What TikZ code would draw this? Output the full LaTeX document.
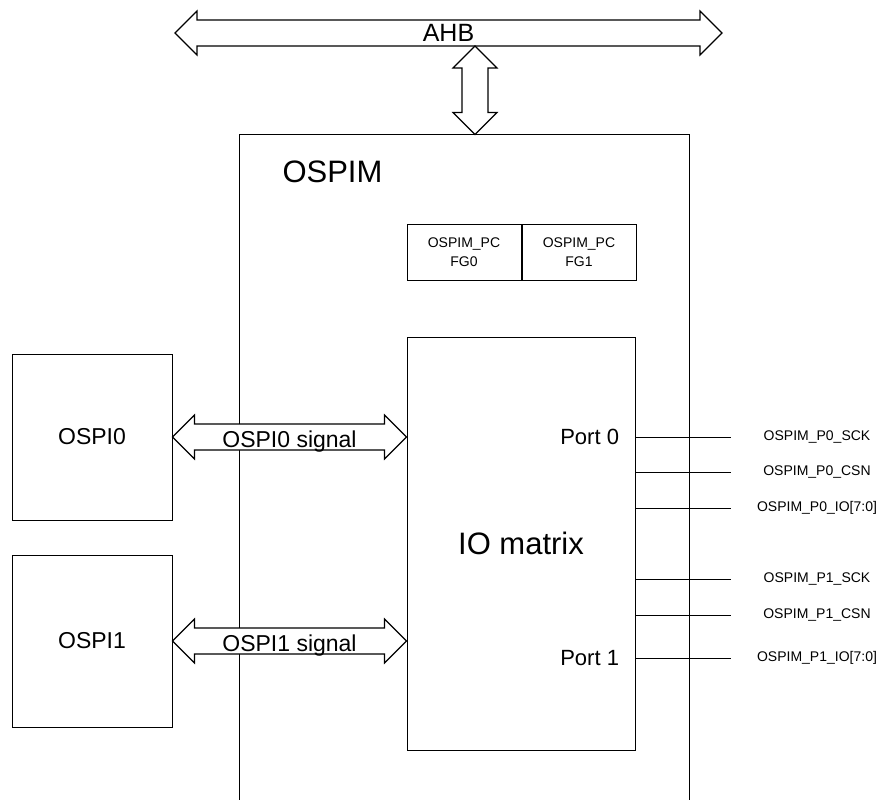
\documentclass[tikz,border=0pt]{standalone}
\usepackage{fontspec}
\setmainfont{Liberation Sans}
\usetikzlibrary{calc,positioning}

% wide two-headed bus arrows, from #1 to #2
\newcommand{\hbus}[2]{%
  \draw[bus] let \p1=(#1), \p2=(#2) in
    (\x1,\y1) -- (\x1+22pt,\y1+22pt) -- (\x1+22pt,\y1+13pt)
    -- (\x2-22pt,\y1+13pt) -- (\x2-22pt,\y1+22pt) -- (\x2,\y1)
    -- (\x2-22pt,\y1-22pt) -- (\x2-22pt,\y1-13pt)
    -- (\x1+22pt,\y1-13pt) -- (\x1+22pt,\y1-22pt) -- cycle;}
\newcommand{\vbus}[2]{%
  \draw[bus] let \p1=(#1), \p2=(#2) in
    (\x1,\y1) -- (\x1+22pt,\y1-22pt) -- (\x1+13pt,\y1-22pt)
    -- (\x1+13pt,\y2+22pt) -- (\x1+22pt,\y2+22pt) -- (\x1,\y2)
    -- (\x1-22pt,\y2+22pt) -- (\x1-13pt,\y2+22pt)
    -- (\x1-13pt,\y1-22pt) -- (\x1-22pt,\y1-22pt) -- cycle;}

\begin{document}
\begin{tikzpicture}[x=1pt, y=-1pt,
    line width=1pt,
    box/.style   = {draw, line width=1pt, inner sep=0pt, align=center},
    bus/.style   = {draw, fill=white, line width=1.2pt, line join=miter},
    wire/.style  = {line width=1pt},
    huge/.style  = {font=\fontsize{31}{37}\selectfont},
    mid/.style   = {font=\fontsize{23}{28}\selectfont},
    port/.style  = {font=\fontsize{22}{26}\selectfont, inner sep=0pt},
    tiny/.style  = {font=\fontsize{14}{19}\selectfont},
    sig/.style   = {font=\fontsize{14}{17}\selectfont, inner sep=0pt},
  ]
  \useasboundingbox (0,0) rectangle (892,800);

  % OSPIM block, open at the bottom
  \node[minimum width=449pt, minimum height=665pt, inner sep=0pt] (ospim) at (464.5,467.5) {};
  \draw (ospim.south west) |- (ospim.north east) -- (ospim.south east);
  \node[huge, anchor=base west, inner sep=0pt] (ospimlbl) at (282,182) {OSPIM};

  \node[box, tiny, minimum width=114pt, minimum height=56pt] (pcfg0) at (464,252) {OSPIM\_PC\\FG0};
  \node[box, tiny, minimum width=114pt, minimum height=56pt, right=0pt of pcfg0] (pcfg1) {OSPIM\_PC\\FG1};

  \node[box, minimum width=228pt, minimum height=413pt] (io) at (521,543.5) {};
  \node[huge] (iolbl) at (io.center) {IO matrix};

  \node[box, mid, minimum width=160pt, minimum height=166pt] (ospi0) at (92,437) {OSPI0};
  \node[box, mid, minimum width=160pt, minimum height=172pt] (ospi1) at (92,641) {OSPI1};

  % AHB bus
  \coordinate (ahbL) at (175,33);
  \coordinate (ahbR) at (722,33);
  \coordinate (ahbtap) at (475,46);
  \hbus{ahbL}{ahbR}
  \node[anchor=base, inner sep=0pt, font=\fontsize{25}{30}\selectfont] (ahblbl)
    at ($(ahbL)!0.5!(ahbR)+(0,9)$) {AHB};
  \vbus{ahbtap}{ahbtap |- ospim.north}

  % OSPI signal buses
  \hbus{ospi0.east}{io.west |- ospi0.east}
  \node[mid, anchor=base, inner sep=0pt] (sig0)
    at ($(ospi0.east)!0.5!(io.west |- ospi0.east)+(0,10)$) {OSPI0 signal};
  \hbus{ospi1.east}{io.west |- ospi1.east}
  \node[mid, anchor=base, inner sep=0pt] (sig1)
    at ($(ospi1.east)!0.5!(io.west |- ospi1.east)+(0,10)$) {OSPI1 signal};

  % port pins
  \foreach \y/\name/\txt in {437/p0sck/{OSPIM\_P0\_SCK}, 472/p0csn/{OSPIM\_P0\_CSN},
      508/p0io/{OSPIM\_P0\_IO[7:0]}, 579/p1sck/{OSPIM\_P1\_SCK},
      615/p1csn/{OSPIM\_P1\_CSN}, 658/p1io/{OSPIM\_P1\_IO[7:0]}}{
    \node[sig] (l\name) at (817,\y) {\txt};
    \draw[wire] (io.east |- l\name) -- ++(95,0) coordinate (\name);
  }
  \node[port, anchor=east] (port0) at ($(io.east |- lp0sck)+(-16,0)$) {Port 0};
  \node[port, anchor=east] (port1) at ($(io.east |- lp1io)+(-16,0)$) {Port 1};
\end{tikzpicture}
\end{document}
